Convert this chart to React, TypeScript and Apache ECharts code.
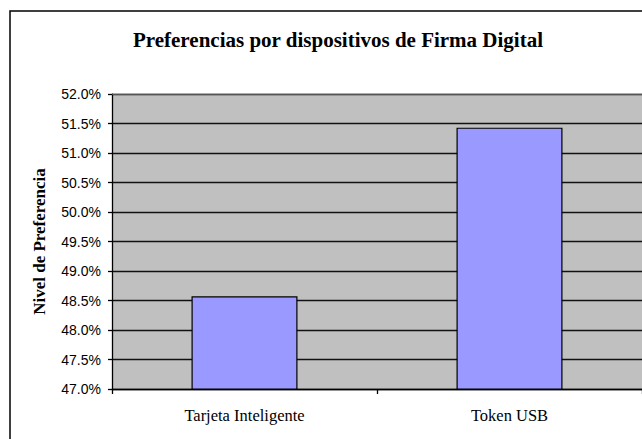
import React, { useEffect, useRef } from "react";
import * as echarts from "echarts";

const categories = ["Tarjeta Inteligente", "Token USB"];
const values = [48.57, 51.43];
const yMin = 47;
const yMax = 52;
const yStep = 0.5;
const titleText = "Preferencias por dispositivos de Firma Digital";
const yAxisTitle = "Nivel de Preferencia";

const SERIF = "'Liberation Serif', 'Times New Roman', Times, serif";

export default function App() {
  const ref = useRef<HTMLDivElement>(null);
  useEffect(() => {
    if (!ref.current) return;
    const chart = echarts.init(ref.current, null, { renderer: "svg" });
    chart.setOption({
      animation: false,
      backgroundColor: "#ffffff",
      textStyle: { fontFamily: SERIF },
      title: {
        text: titleText,
        left: 333,
        textAlign: "center",
        top: 24,
        textStyle: {
          fontFamily: SERIF,
          fontWeight: "bold",
          fontSize: 21,
          color: "#000",
        },
      },
      graphic: [
        {
          type: "polyline",
          shape: { points: [[10, 450], [10, 11], [650, 11]] },
          style: { fill: "none", stroke: "#000", lineWidth: 1.5 },
          silent: true,
          z: 100,
        },
        {
          type: "line",
          shape: { x1: 112, y1: 94, x2: 650, y2: 94 },
          style: { stroke: "#9a9a9a", lineWidth: 1.2 },
          silent: true,
          z: 50,
        },
      ],
      grid: {
        left: 112,
        top: 94,
        width: 531,
        height: 295,
        show: true,
        backgroundColor: "#C0C0C0",
        borderWidth: 0,
      },
      xAxis: {
        type: "category",
        data: categories,
        boundaryGap: true,
        axisLine: { show: true, lineStyle: { color: "#000", width: 1.3 } },
        axisTick: { show: true, length: 5, lineStyle: { color: "#000", width: 1.3 } },
        axisLabel: {
          margin: 18,
          fontFamily: SERIF,
          fontSize: 16.5,
          color: "#000",
        },
      },
      yAxis: {
        type: "value",
        min: yMin,
        max: yMax,
        interval: yStep,
        name: yAxisTitle,
        nameLocation: "middle",
        nameGap: 64,
        nameTextStyle: {
          fontFamily: SERIF,
          fontWeight: "bold",
          fontSize: 17,
          color: "#000",
        },
        axisLine: { show: true, lineStyle: { color: "#000", width: 1.3 } },
        axisTick: { show: true, length: 4, lineStyle: { color: "#000", width: 1.3 } },
        axisLabel: {
          margin: 11,
          fontFamily: "'Liberation Sans', Arial, sans-serif",
          fontSize: 14,
          color: "#000",
          formatter: (v: number) => v.toFixed(1) + "%",
        },
        splitLine: { show: true, lineStyle: { color: "#111", width: 1.3 } },
      },
      series: [
        {
          type: "bar",
          data: values,
          barWidth: 106,
          itemStyle: { color: "#9999FF", borderColor: "#000", borderWidth: 1.2 },
        },
      ],
    });
    return () => chart.dispose();
  }, []);
  return (
    <div
      ref={ref}
      style={{ position: "fixed", left: 0, top: 0, width: 642, height: 439 }}
    />
  );
}
